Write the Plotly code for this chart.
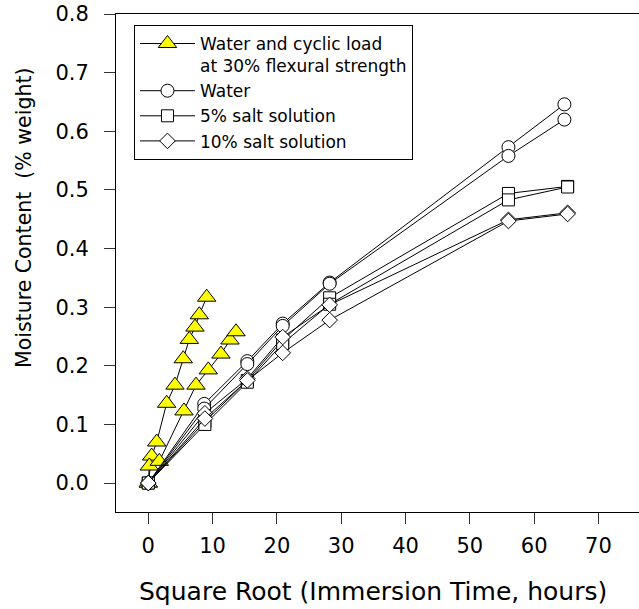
import plotly.graph_objects as go

# ---- data ----
tri_a_x = [0, 0.53, 1.31, 2.86, 4.15, 5.44, 6.38, 7.26, 7.93, 9.08]
tri_a_y = [0, 0.046, 0.070, 0.136, 0.167, 0.212, 0.245, 0.266, 0.287, 0.317]
tri_b_x = [0, 0.16, 1.71, 5.55, 7.42, 9.33, 11.3, 12.7, 13.64]
tri_b_y = [0, 0.029, 0.037, 0.123, 0.167, 0.193, 0.220, 0.244, 0.258]

water_x = [0, 8.7, 15.4, 20.9, 28.2, 56.0, 64.7]
water_a_y = [0, 0.135, 0.208, 0.272, 0.342, 0.573, 0.646]
water_b_y = [0, 0.127, 0.203, 0.268, 0.340, 0.558, 0.620]

salt_x = [0, 8.8, 15.4, 20.9, 28.2, 56.0, 65.2]
salt5_a_y = [0, 0.105, 0.175, 0.244, 0.316, 0.494, 0.506]
salt5_b_y = [0, 0.100, 0.172, 0.238, 0.305, 0.483, 0.505]
salt10_a_y = [0, 0.119, 0.178, 0.249, 0.304, 0.449, 0.461]
salt10_b_y = [0, 0.110, 0.175, 0.222, 0.278, 0.447, 0.459]

names = ["Water and cyclic load<br>at 30% flexural strength", "Water",
         "5% salt solution", "10% salt solution"]
x_ticks = [0, 10, 20, 30, 40, 50, 60, 70]
y_ticks = [0.0, 0.1, 0.2, 0.3, 0.4, 0.5, 0.6, 0.7, 0.8]

FONT = "DejaVu Sans"
fig = go.Figure()

def add(x, y, name, symbol, size, fill, show, group):
    fig.add_trace(go.Scatter(
        x=x, y=y, mode="lines+markers", name=name, legendgroup=group,
        showlegend=show,
        line=dict(color="black", width=1),
        marker=dict(symbol=symbol, size=size, color=fill,
                    line=dict(color="black", width=1)),
    ))

add(tri_a_x, tri_a_y, names[0], "triangle-up", 16, "#FFFF00", True, "t")
add(tri_b_x, tri_b_y, names[0], "triangle-up", 16, "#FFFF00", False, "t")
add(water_x, water_a_y, names[1], "circle", 13, "white", True, "w")
add(water_x, water_b_y, names[1], "circle", 13, "white", False, "w")
add(salt_x, salt5_a_y, names[2], "square", 12, "white", True, "s5")
add(salt_x, salt5_b_y, names[2], "square", 12, "white", False, "s5")
add(salt_x, salt10_a_y, names[3], "diamond", 12, "white", True, "s10")
add(salt_x, salt10_b_y, names[3], "diamond", 12, "white", False, "s10")

fig.update_layout(
    width=639, height=609,
    margin=dict(l=116, r=0, t=14, b=97),
    plot_bgcolor="white", paper_bgcolor="white",
    font=dict(family=FONT, color="black"),
    showlegend=True,
    legend=dict(x=0.0344, y=0.978, xanchor="left", yanchor="top",
                bordercolor="black", borderwidth=1, bgcolor="white",
                font=dict(family=FONT, size=17), tracegroupgap=0,
                valign="top", itemwidth=55),
    xaxis=dict(range=[-5.02, 76.3], tickvals=x_ticks, ticks="outside",
               ticklen=11, tickcolor="#333", showline=True, linecolor="black",
               linewidth=1, mirror=True, showgrid=False, zeroline=False,
               tickfont=dict(family=FONT, size=21), ticklabelstandoff=4),
    yaxis=dict(range=[-0.0494, 0.8001], tickvals=y_ticks, tickformat=".1f",
               ticks="outside", ticklen=11, tickcolor="#333", showline=True,
               linecolor="black", linewidth=1, showgrid=False, zeroline=False,
               tickfont=dict(family=FONT, size=21), ticklabelstandoff=11),
    annotations=[
        dict(text="Square Root (Immersion Time, hours)", xref="paper",
             yref="paper", x=0.4914, y=-0.1606, xanchor="center",
             yanchor="middle", showarrow=False,
             font=dict(family=FONT, size=25)),
        dict(text="Moisture Content \u00a0(% weight)", xref="paper",
             yref="paper", x=-0.1759, y=0.5904, xanchor="center",
             yanchor="middle", showarrow=False, textangle=-90,
             font=dict(family=FONT, size=20.5)),
    ],
)

fig.write_html("out.html",
               config={"displayModeBar": False},
               post_script="document.body.style.margin='0';"
                           "document.body.style.overflow='hidden';")
